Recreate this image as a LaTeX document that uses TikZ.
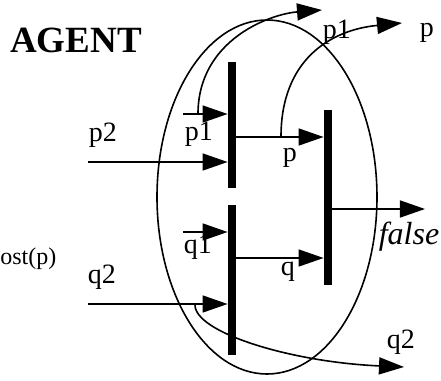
\documentclass[tikz,border=0pt]{standalone}
\usepackage{fontspec}
\setmainfont{Liberation Serif}
\usetikzlibrary{positioning,arrows.meta,shapes.geometric}
\tikzset{
  bar/.style={fill=black, inner sep=0pt, minimum width=4pt},
  flow/.style={line width=0.8pt, -{Triangle[length=12.5pt,width=8.5pt]}},
  lbl/.style={font=\fontsize{14}{16}\selectfont, inner sep=0pt},
}

\begin{document}
\begin{tikzpicture}[x=0.5pt,y=-0.5pt]
\useasboundingbox (0,0) rectangle (441,381);
    \node[draw, ellipse, line width=0.8pt, inner sep=0pt, minimum width=110pt, minimum height=177pt] (agent) at (267,197) {};
    \node[font=\bfseries\fontsize{18.5}{22}\selectfont, inner sep=0pt] (title) at (76,40) {AGENT};

    % transitions
    \node[bar, minimum height=63pt] (b1) at (232,125) {};
    \node[bar, minimum height=75pt] (b2) at (232,280) {};
    \node[bar, minimum height=87.5pt] (b3) at (328,197.5) {};

    \coordinate (p1in) at (183,114);
    \coordinate (p1fork) at (198,114);
    \coordinate (p1out) at (322,10);
    \coordinate (p2in) at (88,162);
    \coordinate (pmid) at (281,137);
    \coordinate (pout) at (402,23);
    \coordinate (q1in) at (183,232);
    \coordinate (q2in) at (88,304);
    \coordinate (q2fork) at (195,304);
    \coordinate (q2out) at (404,367);
    \coordinate (qmid) at (280,258);
    \coordinate (fout) at (425,209);

    \draw[flow] (p1in) -- (p1in -| b1.west);
    \draw[flow] (p2in) -- (p2in -| b1.west);
    \draw[flow] (pmid -| b1.east) -- (pmid -| b3.west);
    \draw[flow] (q1in) -- (q1in -| b2.west);
    \draw[flow] (q2in) -- (q2in -| b2.west);
    \draw[flow] (qmid -| b2.east) -- (qmid -| b3.west);
    \draw[flow] (fout -| b3.east) -- (fout);

    \draw[flow] (p1fork) .. controls (198,40) and (270,14) .. (p1out);
    \draw[flow] (pmid) .. controls (281,60) and (330,30) .. (pout);
    \draw[flow] (q2fork) .. controls (193,332) and (290,362) .. (q2out);

    \node[lbl] (lp2) at (103,135) {p2};
    \node[lbl] (lp1a) at (199,134) {p1};
    \node[lbl] (lp) at (290,158) {p};
    \node[lbl] (lp1b) at (337,32) {p1};
    \node[lbl] (lpout) at (427,33) {p};
    \node[lbl] (lq1) at (198,247) {q1};
    \node[lbl] (lq2) at (102,277) {q2};
    \node[lbl] (lq) at (288,272) {q};
    \node[lbl] (lq2out) at (401,342) {q2};
    \node[lbl, font=\itshape\fontsize{16}{18}\selectfont] (lfalse) at (409,237) {false};
    \node[lbl, font=\fontsize{12}{14}\selectfont, anchor=west] (lpost) at (0,259) {ost(p)};
\end{tikzpicture}
\end{document}
